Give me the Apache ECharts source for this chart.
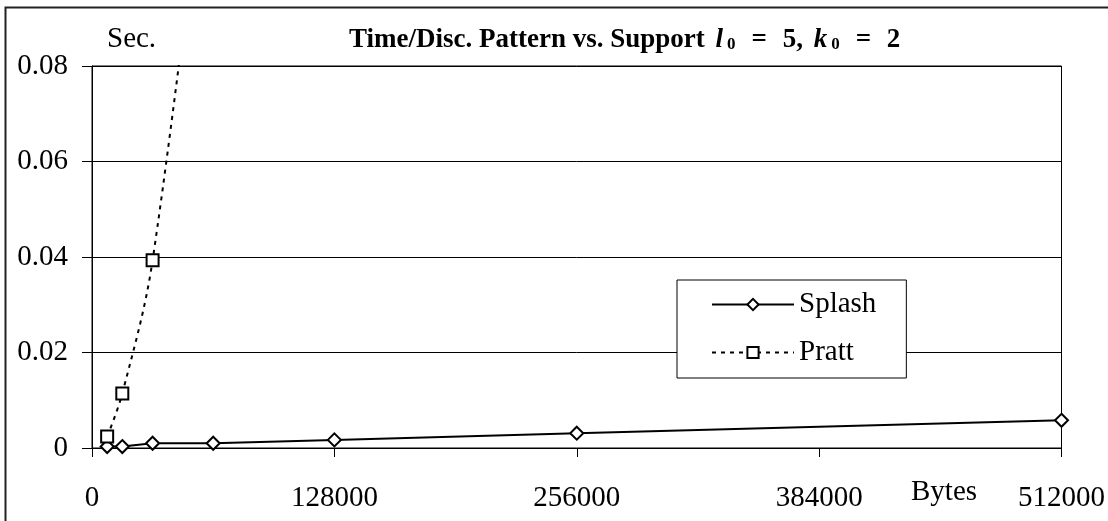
<!DOCTYPE html>
<html>
<head>
<meta charset="utf-8">
<script src="https://cdn.jsdelivr.net/npm/echarts@6/dist/echarts.min.js"></script>
<style>
html,body{margin:0;padding:0;background:#fff;}
#chart{width:1108px;height:521px;}
</style>
</head>
<body>
<div id="chart"></div>
<script>
// ---- data ----
const splashBytes = [8000, 16000, 32000, 64000, 128000, 256000, 512000];
const splashSec   = [0.0003, 0.0003, 0.001, 0.001, 0.0017, 0.0031, 0.0058];
const prattBytes  = [8000, 16000, 32000, 64000];
const prattSec    = [0.0024, 0.0114, 0.0393, 0.14];
const xTicks = [0, 128000, 256000, 384000, 512000];
const yTicks = [0, 0.02, 0.04, 0.06, 0.08];
const seriesNames = ['Splash', 'Pratt'];

const FONT = '"Liberation Serif", "Times New Roman", serif';
const chart = echarts.init(document.getElementById('chart'), null, {renderer: 'canvas'});

const zip = (xs, ys) => xs.map((x, i) => [x, ys[i]]);

chart.setOption({
  animation: false,
  backgroundColor: '#fff',
  title: {
    left: 344, top: 22,
    text: '{b|Time/Disc. Pattern vs. Support }{i|l}{s|0}{e|=}{b| 5, }{i|k}{s|0}{e|=}{b| 2}',
    textStyle: {
      rich: {
        b: {fontFamily: FONT, fontWeight: 'bold', fontSize: 27, color: '#000'},
        e: {fontFamily: FONT, fontWeight: 'bold', fontSize: 27, color: '#000', padding: [0, 9, 0, 12]},
        i: {fontFamily: FONT, fontWeight: 'bold', fontStyle: 'italic', fontSize: 27, color: '#000', padding: [0, 0, 0, 4]},
        s: {fontFamily: FONT, fontWeight: 'bold', fontSize: 17, color: '#000', padding: [9, 4, 0, 4]}
      }
    }
  },
  legend: {
    orient: 'vertical',
    left: 677, top: 280,
    padding: [10, 30, 11, 34],
    itemGap: 19,
    itemWidth: 82,
    itemHeight: 14,
    backgroundColor: '#fff',
    borderColor: '#000',
    borderWidth: 1,
    data: seriesNames,
    textStyle: {fontFamily: FONT, fontSize: 29, color: '#000'}
  },
  grid: {
    left: 92, right: 42, top: 66, bottom: 73,
    show: true, borderColor: '#000', borderWidth: 1, backgroundColor: 'transparent'
  },
  xAxis: {
    type: 'value',
    min: xTicks[0], max: xTicks[xTicks.length - 1], interval: xTicks[1] - xTicks[0],
    axisLine: {show: true, lineStyle: {color: '#000', width: 1}},
    axisTick: {show: true, length: 9, lineStyle: {color: '#000'}},
    splitLine: {show: false},
    axisLabel: {
      margin: 36, fontFamily: FONT, fontSize: 29, color: '#000',
      formatter: v => String(v)
    }
  },
  yAxis: {
    type: 'value',
    min: yTicks[0], max: yTicks[yTicks.length - 1], interval: yTicks[1] - yTicks[0],
    axisLine: {show: true, lineStyle: {color: '#000', width: 1}},
    axisTick: {show: true, length: 10, lineStyle: {color: '#000'}},
    splitLine: {show: true, lineStyle: {color: '#000', width: 1}},
    axisLabel: {
      margin: 24, fontFamily: FONT, fontSize: 29, color: '#000',
      formatter: v => String(+v.toFixed(2))
    }
  },
  graphic: [
    {type: 'rect', shape: {x: 5.5, y: 7.5, width: 1200, height: 600},
     style: {fill: 'none', stroke: '#222', lineWidth: 2}, silent: true, z: 100},
    {type: 'text', left: 107, top: 25,
     style: {text: 'Sec.', fontFamily: FONT, fontSize: 29, fill: '#000'}},
    {type: 'text', left: 911, top: 478,
     style: {text: 'Bytes', fontFamily: FONT, fontSize: 29, fill: '#000'}}
  ],
  series: [
    {
      name: seriesNames[0], type: 'line',
      data: zip(splashBytes, splashSec),
      symbol: 'diamond', symbolSize: 13,
      lineStyle: {color: '#000', width: 2},
      itemStyle: {color: '#fff', borderColor: '#000', borderWidth: 2},
      z: 3
    },
    {
      name: seriesNames[1], type: 'line',
      data: zip(prattBytes, prattSec),
      symbol: 'rect', symbolSize: 12,
      smooth: 0.35,
      lineStyle: {color: '#000', width: 2, type: [4, 5]},
      itemStyle: {color: '#fff', borderColor: '#000', borderWidth: 2},
      z: 4
    }
  ]
});
</script>
</body>
</html>
